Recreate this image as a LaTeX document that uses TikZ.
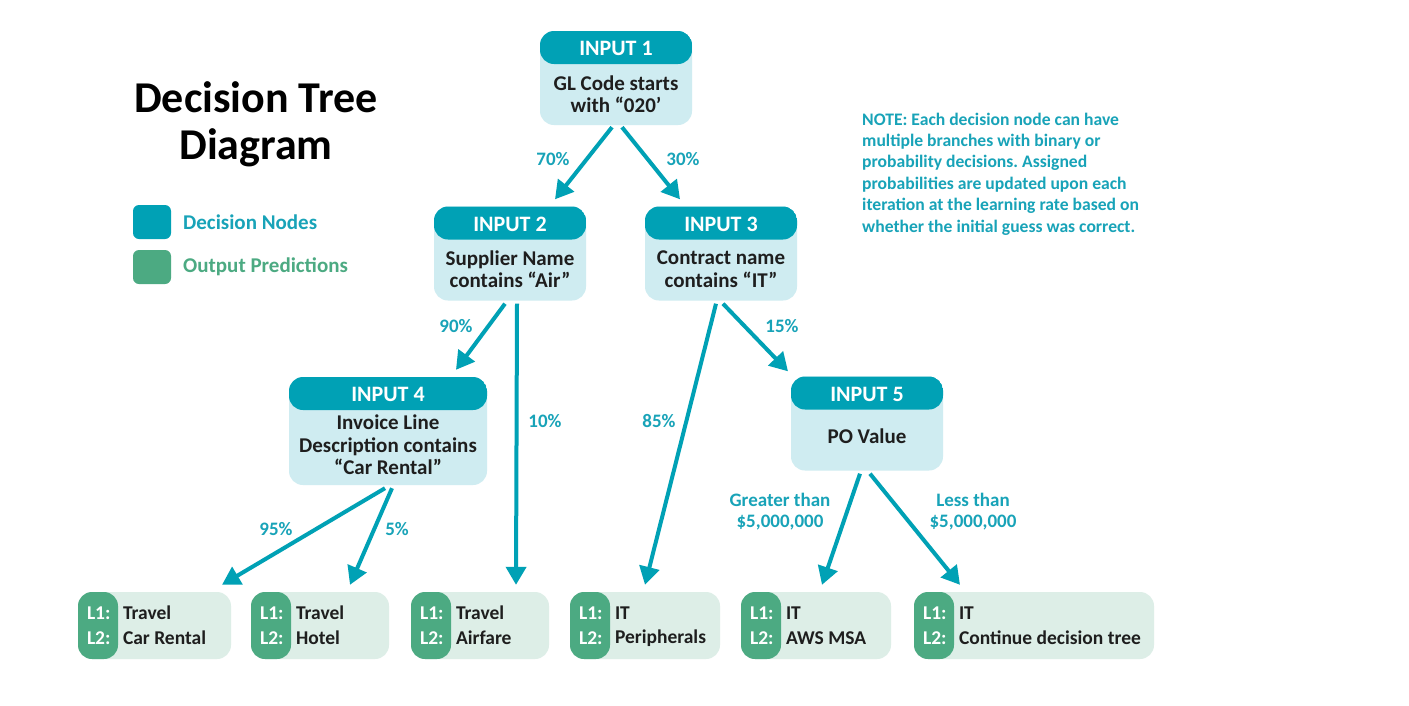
\documentclass[tikz,border=0pt]{standalone}
\usepackage{fontspec}
\setmainfont{Carlito}
\usetikzlibrary{arrows.meta,calc}
\frenchspacing
\definecolor{teal1}{RGB}{0,161,181}
\definecolor{tealL}{RGB}{207,236,241}
\definecolor{grn}{RGB}{76,170,130}
\definecolor{grnL}{RGB}{221,238,231}
\definecolor{lbl}{RGB}{24,163,184}
\definecolor{txt}{RGB}{30,30,30}
\newcommand\myoutbox[6]{%
  \node[outb, minimum width=#4] (#1) at (#2,#3) {};
  \node[ltag, anchor=west] at ($(#1.west)+(9,-12.5)$) {L1:};
  \node[ltag, anchor=west] at ($(#1.west)+(9,12.5)$) {L2:};
  \node[lval, anchor=west] at ($(#1.west)+(45,-12.5)$) {#5};
  \node[lval, anchor=west] at ($(#1.west)+(45,12.5)$) {#6};
}
\begin{document}
\begin{tikzpicture}[x=1pt,y=-1pt,
  dec/.style={draw=none, rounded corners=14pt, fill=tealL, minimum width=152pt,
    minimum height=94pt, inner sep=0pt,
    path picture={\fill[teal1] (path picture bounding box.north west) rectangle ([yshift=-33pt]path picture bounding box.north east);}},
  outb/.style={draw=none, rounded corners=14pt, fill=grnL, minimum height=67pt, inner sep=0pt,
    path picture={\fill[grn] (path picture bounding box.north west) rectangle ([xshift=40pt]path picture bounding box.south west);}},
  hdr/.style={text=white, font=\bfseries\fontsize{22}{25}\selectfont, inner sep=0pt},
  body/.style={text=txt, font=\bfseries\fontsize{21}{22.8}\selectfont, align=center, inner sep=0pt},
  ltag/.style={text=white, font=\bfseries\fontsize{19.5}{23}\selectfont, inner sep=0pt},
  lval/.style={text=txt, font=\bfseries\fontsize{19.5}{23}\selectfont, inner sep=0pt},
  plbl/.style={text=lbl, font=\bfseries\fontsize{19}{21}\selectfont, align=center, inner sep=0pt},
  arr/.style={draw=teal1, line width=4pt, -{Triangle[length=18pt,width=20pt]}},
]
\useasboundingbox[fill=white] (0,0) rectangle (1409,705);

% title & legend
\node[text=black, font=\bfseries\fontsize{44}{47}\selectfont, align=center, inner sep=0pt] (title) at (256,124) {Decision Tree\\Diagram};
\node[fill=teal1, rounded corners=6pt, minimum width=38pt, minimum height=34pt, inner sep=0pt] (legd) at (152,222) {};
\node[fill=grn, rounded corners=6pt, minimum width=38pt, minimum height=34pt, inner sep=0pt] (lego) at (152,267) {};
\node[text=lbl, font=\bfseries\fontsize{21}{23}\selectfont, anchor=west, inner sep=0pt] (legdt) at (183,222) {Decision Nodes};
\node[text=grn, font=\bfseries\fontsize{21}{23}\selectfont, anchor=west, inner sep=0pt] (legot) at (183,267) {Output Predictions};

% note
\node[text=lbl, font=\bfseries\fontsize{17.6}{21.4}\selectfont, align=left, anchor=north west, inner sep=0pt] (note) at (862,112.5)
  {NOTE: Each decision node can have\\multiple branches with binary or\\probability decisions. Assigned\\probabilities are updated upon each\\iteration at the learning rate based on\\whether the initial guess was correct.};

% decision nodes
\node[dec] (in1) at (616,78) {};
\node[hdr] at ($(in1.north)+(0,18)$) {INPUT 1};
\node[body] at ($(in1.north)+(0,63.5)$) {GL Code starts\\with “020’};

\node[dec] (in2) at (510,253.5) {};
\node[hdr] at ($(in2.north)+(0,18)$) {INPUT 2};
\node[body] at ($(in2.north)+(0,63)$) {Supplier Name\\contains “Air”};

\node[dec] (in3) at (721,253.5) {};
\node[hdr] at ($(in3.north)+(0,18)$) {INPUT 3};
\node[body] at ($(in3.north)+(0,63)$) {Contract name\\contains “IT”};

\node[dec, minimum width=198pt, minimum height=108pt] (in4) at (388,431) {};
\node[hdr] at ($(in4.north)+(0,18)$) {INPUT 4};
\node[body] at ($(in4.north)+(0,68)$) {Invoice Line\\Description contains\\“Car Rental”};

\node[dec] (in5) at (867,423.5) {};
\node[hdr] at ($(in5.north)+(0,18)$) {INPUT 5};
\node[body] at ($(in5.north)+(0,60)$) {PO Value};

% output nodes
\myoutbox{o1}{154.5}{625.5}{153pt}{Travel}{Car Rental}
\myoutbox{o2}{320}{625.5}{138pt}{Travel}{Hotel}
\myoutbox{o3}{480}{625.5}{138pt}{Travel}{Airfare}
\myoutbox{o4}{645}{625.5}{150pt}{IT}{Peripherals}
\myoutbox{o5}{816}{625.5}{150pt}{IT}{AWS MSA}
\myoutbox{o6}{1034}{625.5}{240pt}{IT}{Continue decision tree}

% connectors
\draw[arr] ($(in1.south)+(-4,2)$) -- ($(in2.north)+(45,-7)$);
\draw[arr] ($(in1.south)+(6,2)$) -- ($(in3.north)+(-41,-7)$);
\draw[arr] ($(in2.south)+(-5,3)$) -- ($(in4.north)+(68,-7)$);
\draw[arr] ($(in2.south)+(7,3)$) -- ($(o3.north)+(36,-7)$);
\draw[arr] ($(in3.south)+(-5,3)$) -- ($(o4.north)+(0,-7)$);
\draw[arr] ($(in3.south)+(2,3)$) -- ($(in5.north)+(-79,-5)$);
\draw[arr] ($(in4.south)+(-3,3)$) -- ($(o1.north)+(67.5,-7)$);
\draw[arr] ($(in4.south)+(4,3)$) -- ($(o2.north)+(30,-7)$);
\draw[arr] ($(in5.south)+(-7,3)$) -- ($(o5.north)+(6,-7)$);
\draw[arr] ($(in5.south)+(3,3)$) -- ($(o6.north)+(-74,-7)$);

% connector labels
\node[plbl] (l12) at (553,159) {70\%};
\node[plbl] (l13) at (683,159) {30\%};
\node[plbl] (l24) at (456,326) {90\%};
\node[plbl] (l2o3) at (545,421) {10\%};
\node[plbl] (l3o4) at (659,421) {85\%};
\node[plbl] (l35) at (782,326) {15\%};
\node[plbl] (l4o1) at (276,529) {95\%};
\node[plbl] (l4o2) at (397,529) {5\%};
\node[plbl] (l5o5) at (780,512) {Greater than\\\$5,000,000};
\node[plbl] (l5o6) at (973,512) {Less than\\\$5,000,000};
\end{tikzpicture}
\end{document}
